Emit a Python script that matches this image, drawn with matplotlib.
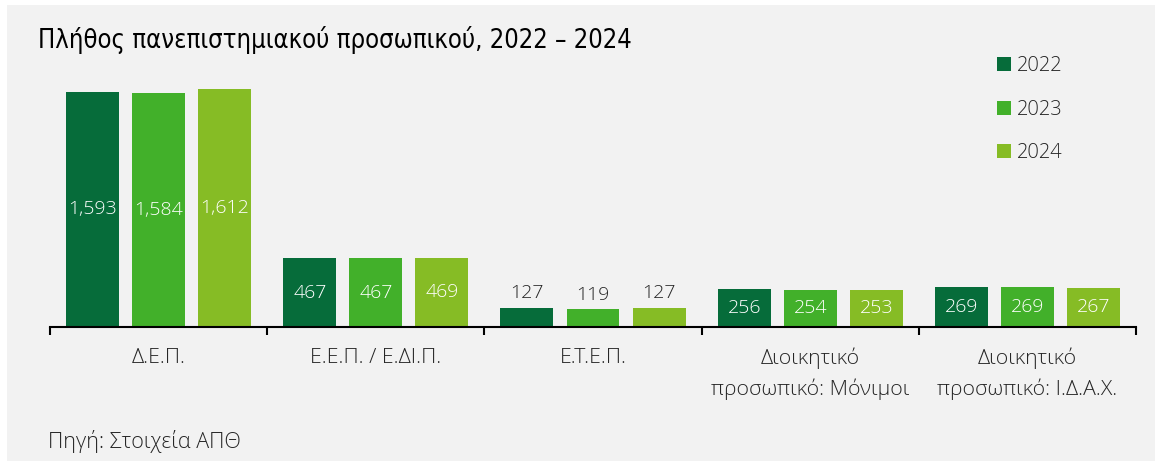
import numpy as np
import matplotlib.pyplot as plt
from matplotlib.patches import Rectangle

# data
categories = ["Δ.Ε.Π.", "Ε.Ε.Π. / Ε.ΔΙ.Π.", "Ε.Τ.Ε.Π.",
              "Διοικητικό\nπροσωπικό: Μόνιμοι", "Διοικητικό\nπροσωπικό: Ι.Δ.Α.Χ."]
years = ["2022", "2023", "2024"]
vals_2022 = [1593, 467, 127, 256, 269]
vals_2023 = [1584, 467, 119, 254, 269]
vals_2024 = [1612, 469, 127, 253, 267]
colors = ["#066c3a", "#42b02a", "#86bc25"]

plt.rcParams['font.family'] = ['Open Sans', 'DejaVu Sans']
dark = "#262626"

fig = plt.figure(figsize=(11.55, 4.61), dpi=100, facecolor="white")
# grey panel behind everything, small white margin top/left
fig.patches.append(Rectangle((7/1155, 0), 1 - 7/1155, 1 - 5/461,
                             transform=fig.transFigure, facecolor="#f2f2f2",
                             edgecolor="none", zorder=-5))

ax = fig.add_axes([50/1155, 134/461, (1136-50)/1155, 267/461])
ax.set_facecolor("none")
ax.set_zorder(2)

x = np.arange(len(categories))
offsets = [-0.304, 0, 0.304]
width = 0.244
series = [vals_2022, vals_2023, vals_2024]

for vals, off, col, yr in zip(series, offsets, colors, years):
    bars = ax.bar(x + off, vals, width, color=col, label=yr, zorder=2)
    for b, v in zip(bars, vals):
        cx = b.get_x() + b.get_width() / 2
        if v > 200:
            ax.text(cx, v / 2, f"{v:,}", ha="center", va="center",
                    color="white", fontsize=14, weight="light")
        else:
            ax.text(cx, v + 40, f"{v:,}", ha="center", va="bottom",
                    color=dark, fontsize=14, weight="light")

ax.set_xlim(-0.5, len(categories) - 0.5)
ax.set_ylim(0, 1809)

for s in ["top", "right", "left"]:
    ax.spines[s].set_visible(False)
ax.spines["bottom"].set_linewidth(1.5)
ax.spines["bottom"].set_color("black")
ax.set_yticks([])

ax.set_xticks(x)
ax.set_xticklabels(categories, fontsize=15.3, color=dark, linespacing=1.55,
                   va="top", weight="light")
ax.tick_params(axis="x", which="major", length=0, pad=15)
ax.set_xticks(np.arange(-0.5, len(categories)), minor=True)
ax.tick_params(axis="x", which="minor", length=6, width=1.5, color="black")

fig.text(38/1155, 1 - 40/461, "Πλήθος πανεπιστημιακού προσωπικού, 2022 – 2024",
         family=['DejaVu Sans'], stretch="condensed", fontsize=18.4,
         color="black", va="center", ha="left")

fig.legend(loc="upper left", bbox_to_anchor=(987/1155, 1 - 46/461),
           frameon=False, labelcolor=dark,
           prop={"size": 14.5, "weight": "light"},
           handlelength=0.7, handleheight=0.7, handletextpad=0.3,
           labelspacing=1.17, borderpad=0)

fig.text(48/1155, 1 - 441/461, "Πηγή: Στοιχεία ΑΠΘ", fontsize=15.5,
         color=dark, va="center", ha="left", weight="light")

fig.savefig("out.png", dpi=100, facecolor="white")
